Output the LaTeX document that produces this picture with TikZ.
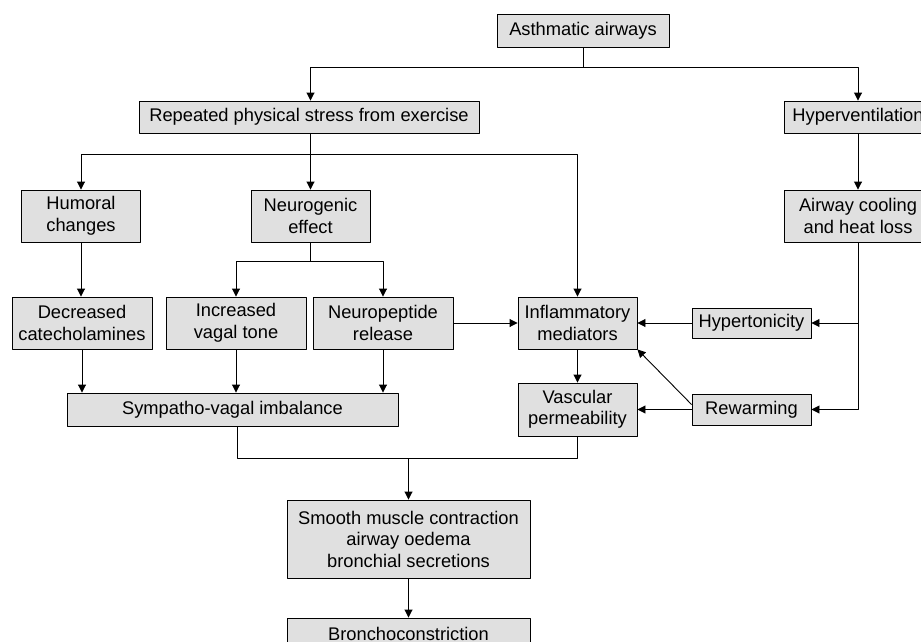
\documentclass[tikz,border=0pt]{standalone}
\usepackage{fontspec}
\setmainfont{Liberation Sans}
\usetikzlibrary{arrows.meta}
\definecolor{boxgray}{gray}{0.88}
\begin{document}
\begin{tikzpicture}[x=1pt,y=-1pt,>={Triangle[length=8pt,width=8pt]},line join=round,line width=0.9pt,
	font=\fontsize{18.3}{21.5}\selectfont,
	box/.style={draw,fill=boxgray,align=center,inner sep=0pt}]
	\useasboundingbox (0,0) rectangle (921,642);
	\clip (0,0) rectangle (921,642);
	\coordinate (busA) at (0,67);
	\coordinate (busB) at (0,154);
	\coordinate (busC) at (0,261);
	\coordinate (busD) at (0,458);
	\node[box,minimum width=172pt,minimum height=33pt] (asth) at (583,30.5) {Asthmatic airways};
	\node[box,minimum width=340pt,minimum height=32pt] (rep) at (309,117) {Repeated physical stress from exercise};
	\node[box,minimum width=148pt,minimum height=32pt] (hyper) at (858,117) {Hyperventilation};
	\node[box,minimum width=119pt,minimum height=52pt] (humoral) at (81,216) {Humoral\\changes};
	\node[box,minimum width=119pt,minimum height=52pt] (neuro) at (310.5,216) {Neurogenic\\effect};
	\node[box,minimum width=148pt,minimum height=52pt] (cool) at (858,216) {Airway cooling\\and heat loss};
	\node[box,minimum width=140pt,minimum height=52pt] (decr) at (82,323) {Decreased\\catecholamines};
	\node[box,minimum width=140pt,minimum height=52pt] (incr) at (236,323) {Increased\\vagal tone};
	\node[box,minimum width=140pt,minimum height=52pt] (neupep) at (383,323) {Neuropeptide\\release};
	\node[box,minimum width=119pt,minimum height=52pt] (inflam) at (577.5,323) {Inflammatory\\mediators};
	\node[box,minimum width=119pt,minimum height=30pt] (hypert) at (751.5,323) {Hypertonicity};
	\node[box,minimum width=119pt,minimum height=31pt] (rewarm) at (751.5,409.5) {Rewarming};
	\node[box,minimum width=119pt,minimum height=53pt] (vasc) at (577.5,409.5) {Vascular\\permeability};
	\node[box,minimum width=331pt,minimum height=33pt] (symp) at (232.5,409.5) {Sympatho-vagal imbalance};
	\node[box,minimum width=243pt,minimum height=78pt] (smooth) at (408.5,539) {Smooth muscle contraction\\airway oedema\\bronchial secretions};
	\node[box,minimum width=243pt,minimum height=32pt] (broncho) at (408.5,634) {Bronchoconstriction};
	\draw (asth.south) -- (asth |- busA);
	\draw[->] (asth |- busA) -| (neuro |- rep.north);
	\draw[->] (asth |- busA) -| (hyper.north);
	\draw[->] (neuro |- rep.south) -- (neuro.north);
	\draw[->] (neuro |- busB) -| (humoral.north);
	\draw[->] (neuro |- busB) -| (inflam.north);
	\draw[->] (hyper.south) -- (cool.north);
	\draw[->] (humoral.south) -- (humoral.south |- decr.north);
	\draw (neuro.south) -- (neuro |- busC);
	\draw[->] (neuro |- busC) -| (incr.north);
	\draw[->] (neuro |- busC) -| (neupep.north);
	\draw[->] (decr.south) -- (decr.south |- symp.north);
	\draw[->] (incr.south) -- (incr.south |- symp.north);
	\draw[->] (neupep.south) -- (neupep.south |- symp.north);
	\draw[->] (neupep.east) -- (inflam.west);
	\draw[->] (hypert.west) -- (inflam.east);
	\draw[->] (inflam.south) -- (vasc.north);
	\draw[->] (rewarm.west) -- (vasc.east);
	\draw[->] ([yshift=5pt]rewarm.west) -- (inflam.south east);
	\draw[->] (cool.south) |- (rewarm.east);
	\draw[->] (cool |- hypert) -- (hypert.east);
	\draw ([xshift=5pt]symp.south) |- (vasc.south |- busD) -- (vasc.south);
	\draw[->] (smooth.north |- busD) -- (smooth.north);
	\draw[->] (smooth.south) -- (broncho.north);
\end{tikzpicture}
\end{document}
